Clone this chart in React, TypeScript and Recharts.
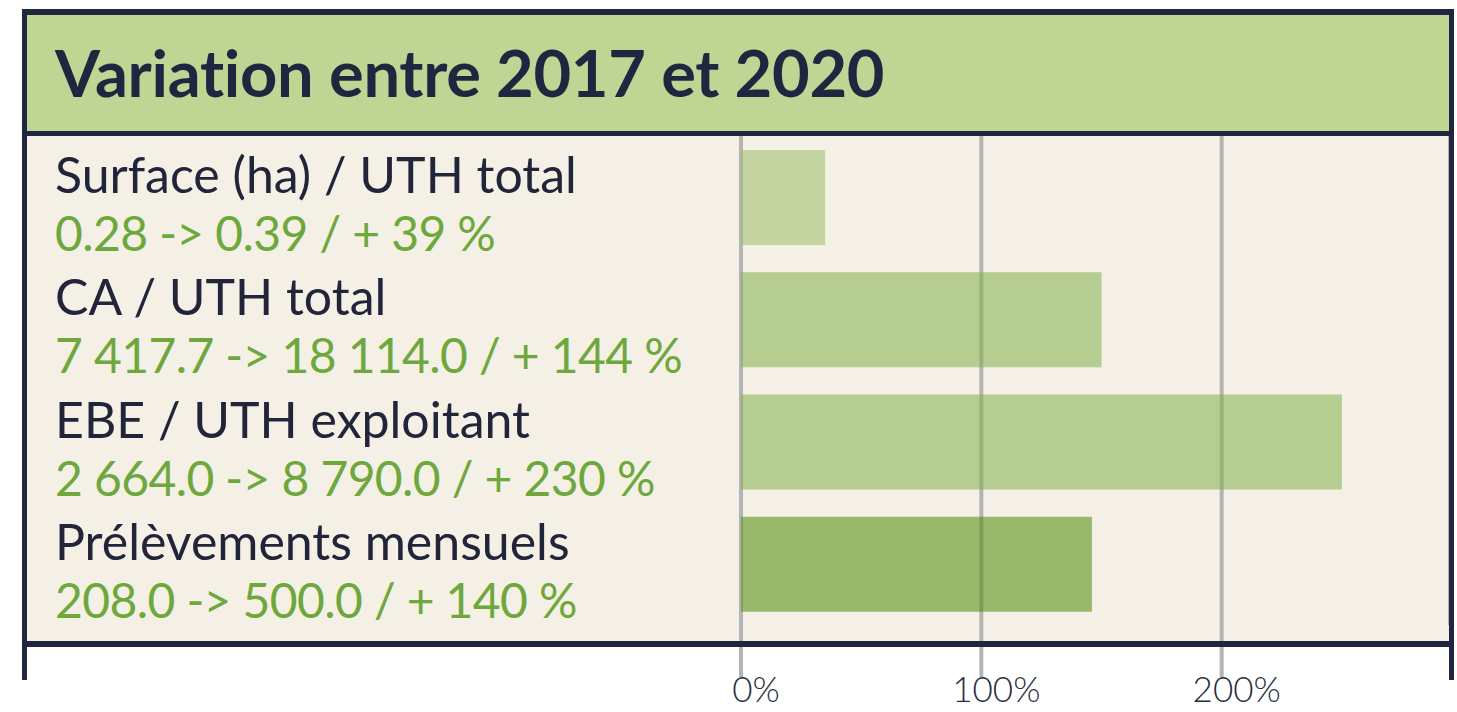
import React from 'react';
import { BarChart, Bar, XAxis, YAxis, CartesianGrid, Cell } from 'recharts';

const categories = [
  'Surface (ha) / UTH total',
  'CA / UTH total',
  'EBE / UTH exploitant',
  'Prélèvements mensuels',
];
const details = [
  '0.28 -> 0.39 / + 39 %',
  '7 417.7 -> 18 114.0 / + 144 %',
  '2 664.0 -> 8 790.0 / + 230 %',
  '208.0 -> 500.0 / + 140 %',
];
// bar lengths as drawn in the reference (%)
const variations = [35, 150, 250, 146];
const xTicks = [0, 100, 200];

const barColors = ['#9bbd68', '#82b04a', '#82b04a', '#4d8a06'];

const data = categories.map((name, i) => ({ name, detail: details[i], value: variations[i] }));

const NAVY = '#1f2640';
const FONT = "Lato, 'Open Sans', sans-serif";

const CategoryTick = (props: any) => {
  const { y, index } = props;
  return (
    <g>
      <text x={55} y={y - 4} fontSize={50} fill="#22253a" fontFamily={FONT}>
        {categories[index]}
      </text>
      <text x={55} y={y + 54} fontSize={48} letterSpacing={-0.6} fill="#6ea83c" fontFamily={FONT}>
        {details[index]}
      </text>
    </g>
  );
};

const PercentTick = (props: any) => {
  const { x, y, payload } = props;
  return (
    <text x={x + 15} y={y + 23} textAnchor="middle" fontSize={35} fontWeight={300} fill="#2a2d40" fontFamily={FONT}>
      {`${payload.value}%`}
    </text>
  );
};

export default function App() {
  return (
    <div style={{ position: 'relative', width: 1457, height: 712, background: '#fff' }}>
      <style>{'body{margin:0}'}</style>
      <svg width={1457} height={712} style={{ position: 'absolute', left: 0, top: 0 }}>
        <rect x={22} y={9} width={1432} height={125} fill="#bfd594" />
        <rect x={22} y={134} width={1432} height={510} fill="#f4f0e6" />
        <text x={55} y={97} fontSize={65} fontWeight={700} letterSpacing={-0.3} fill={NAVY} fontFamily={FONT}>
          Variation entre 2017 et 2020
        </text>
      </svg>
      <div style={{ position: 'absolute', left: 0, top: 0 }}>
        <BarChart
          width={1457}
          height={712}
          data={data}
          layout="vertical"
          margin={{ top: 136, right: 7, bottom: 27, left: 0 }}
        >
          <CartesianGrid horizontal={false} vertical stroke="#b4b4b4" strokeWidth={4} />
          <XAxis
            type="number"
            domain={[0, 295]}
            ticks={xTicks}
            axisLine={false}
            tickLine={{ stroke: '#b4b4b4', strokeWidth: 4 }}
            tickSize={52}
            height={60}
            tick={<PercentTick />}
          />
          <YAxis
            type="category"
            dataKey="name"
            width={741}
            axisLine={false}
            tickLine={false}
            tick={<CategoryTick />}
          />
          <Bar dataKey="value" barSize={95} fillOpacity={0.55} isAnimationActive={false}>
            {data.map((d, i) => (
              <Cell key={d.name} fill={barColors[i]} />
            ))}
          </Bar>
        </BarChart>
      </div>
      <svg width={1457} height={712} style={{ position: 'absolute', left: 0, top: 0, pointerEvents: 'none' }}>
        <rect x={22} y={9} width={1432} height={6} fill={NAVY} />
        <rect x={22} y={9} width={5} height={671} fill={NAVY} />
        <rect x={1449} y={9} width={5} height={671} fill={NAVY} />
        <rect x={22} y={131} width={1432} height={5} fill={NAVY} />
        <rect x={22} y={641} width={1432} height={6} fill={NAVY} />
      </svg>
    </div>
  );
}
